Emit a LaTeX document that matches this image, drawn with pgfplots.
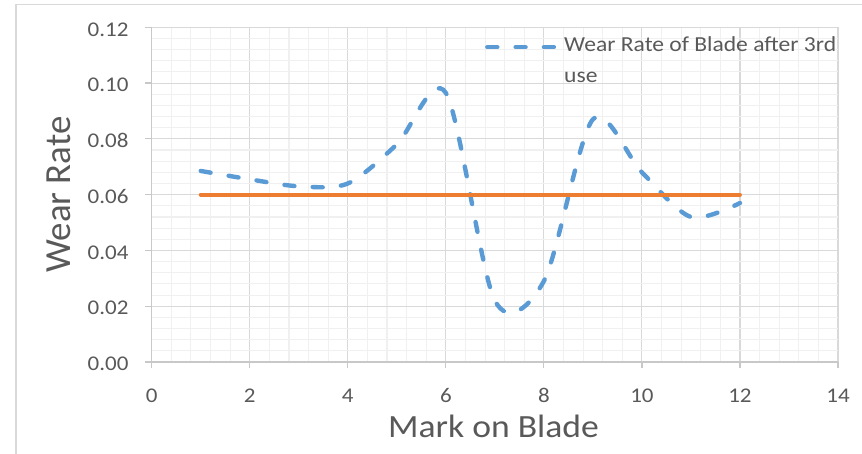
\documentclass[border=0pt]{standalone}
\usepackage{fontspec}
\setmainfont{Carlito}[FakeStretch=1.1]
\newfontfamily\titlefont{Carlito}
\usepackage{pgfplots}
\usepackage{pgfplotstable}
\pgfplotsset{compat=1.18}

\definecolor{serieblue}{HTML}{5B9BD5}
\definecolor{serieorange}{HTML}{ED7D31}
\definecolor{txtgray}{HTML}{595959}
\definecolor{majgrid}{HTML}{D9D9D9}
\definecolor{mingrid}{HTML}{F0F0F0}
\definecolor{axgray}{HTML}{C8C8C8}

% wear rate measured at each mark after the third use
\pgfplotstableread{
mark rate
1  0.0685
2  0.0655
3  0.063
4  0.064
5  0.078
6  0.0965
7  0.022
8  0.029
9  0.087
10 0.068
11 0.052
12 0.057
}\wearthird

% limit line
\pgfplotstableread{
mark rate
1  0.06
2  0.06
3  0.06
4  0.06
5  0.06
6  0.06
7  0.06
8  0.06
9  0.06
10 0.06
11 0.06
12 0.06
}\wearlimit

\begin{document}
\begin{tikzpicture}
\begin{axis}[
  at={(151.7bp,92bp)}, anchor=south west,
  scale only axis, width=686.3bp, height=334.7bp,
  xmin=0, xmax=14, ymin=0, ymax=0.12,
  xtick={0,2,4,6,8,10,12,14},
  ytick={0,0.02,0.04,0.06,0.08,0.10,0.12},
  minor x tick num=4, minor y tick num=4,
  grid=both,
  major grid style={draw=majgrid, line width=1.1bp},
  minor grid style={draw=mingrid, line width=1.1bp},
  axis x line*=bottom, axis y line*=left,
  axis line style={draw=axgray, line width=1.2bp, -},
  tick align=outside, major tick length=6.5bp, minor tick length=0pt,
  major tick style={draw=axgray, line width=1.2bp},
  scaled y ticks=false,
  /pgf/number format/assume math mode=true,
  tick label style={font=\fontsize{21}{24}\selectfont, text=txtgray},
  yticklabel style={/pgf/number format/fixed, /pgf/number format/fixed zerofill,
    /pgf/number format/precision=2, anchor=east, inner sep=0pt, xshift=-16.5bp, yshift=-2bp},
  xticklabel style={anchor=north, inner sep=0pt, yshift=-20bp},
  xlabel={Mark on Blade},
  xlabel style={font=\fontsize{32.5}{33}\selectfont, text=txtgray,
    at={(axis description cs:0.498,-0.2241)}, anchor=base},
  ylabel={Wear Rate},
  ylabel style={font=\titlefont\fontsize{37}{37}\selectfont, text=txtgray,
    at={(axis description cs:-0.119,0.5)}, anchor=base, rotate=0},
  legend style={at={(rel axis cs:0.4855,0.9715)}, anchor=north west,
    draw=none, fill=none, inner sep=0pt, column sep=6.7bp,
    font=\fontsize{21.5}{27.7}\selectfont, text=txtgray,
    nodes={inner sep=0pt, align=left}},
  legend cell align=left,
  legend image code/.code={\draw[#1] (0bp,13.3bp) -- (68bp,13.3bp);},
]
\addplot[serieblue, line width=4.4bp, smooth, tension=0.5, line cap=round,
  dash pattern=on 10bp off 18.3bp] table[x=mark, y=rate] {\wearthird};
\addlegendentry{Wear Rate of Blade after 3rd\\[3bp]use}
\addplot[serieorange, line width=4bp, line cap=round, forget plot]
  table[x=mark, y=rate] {\wearlimit};
\end{axis}
\pgfresetboundingbox
\useasboundingbox (0,0) rectangle (862bp,454bp);
\draw[draw=majgrid, line width=1.5bp] (16bp,0bp) -- (16bp,449.3bp) -- (862bp,449.3bp);
\end{tikzpicture}
\end{document}
